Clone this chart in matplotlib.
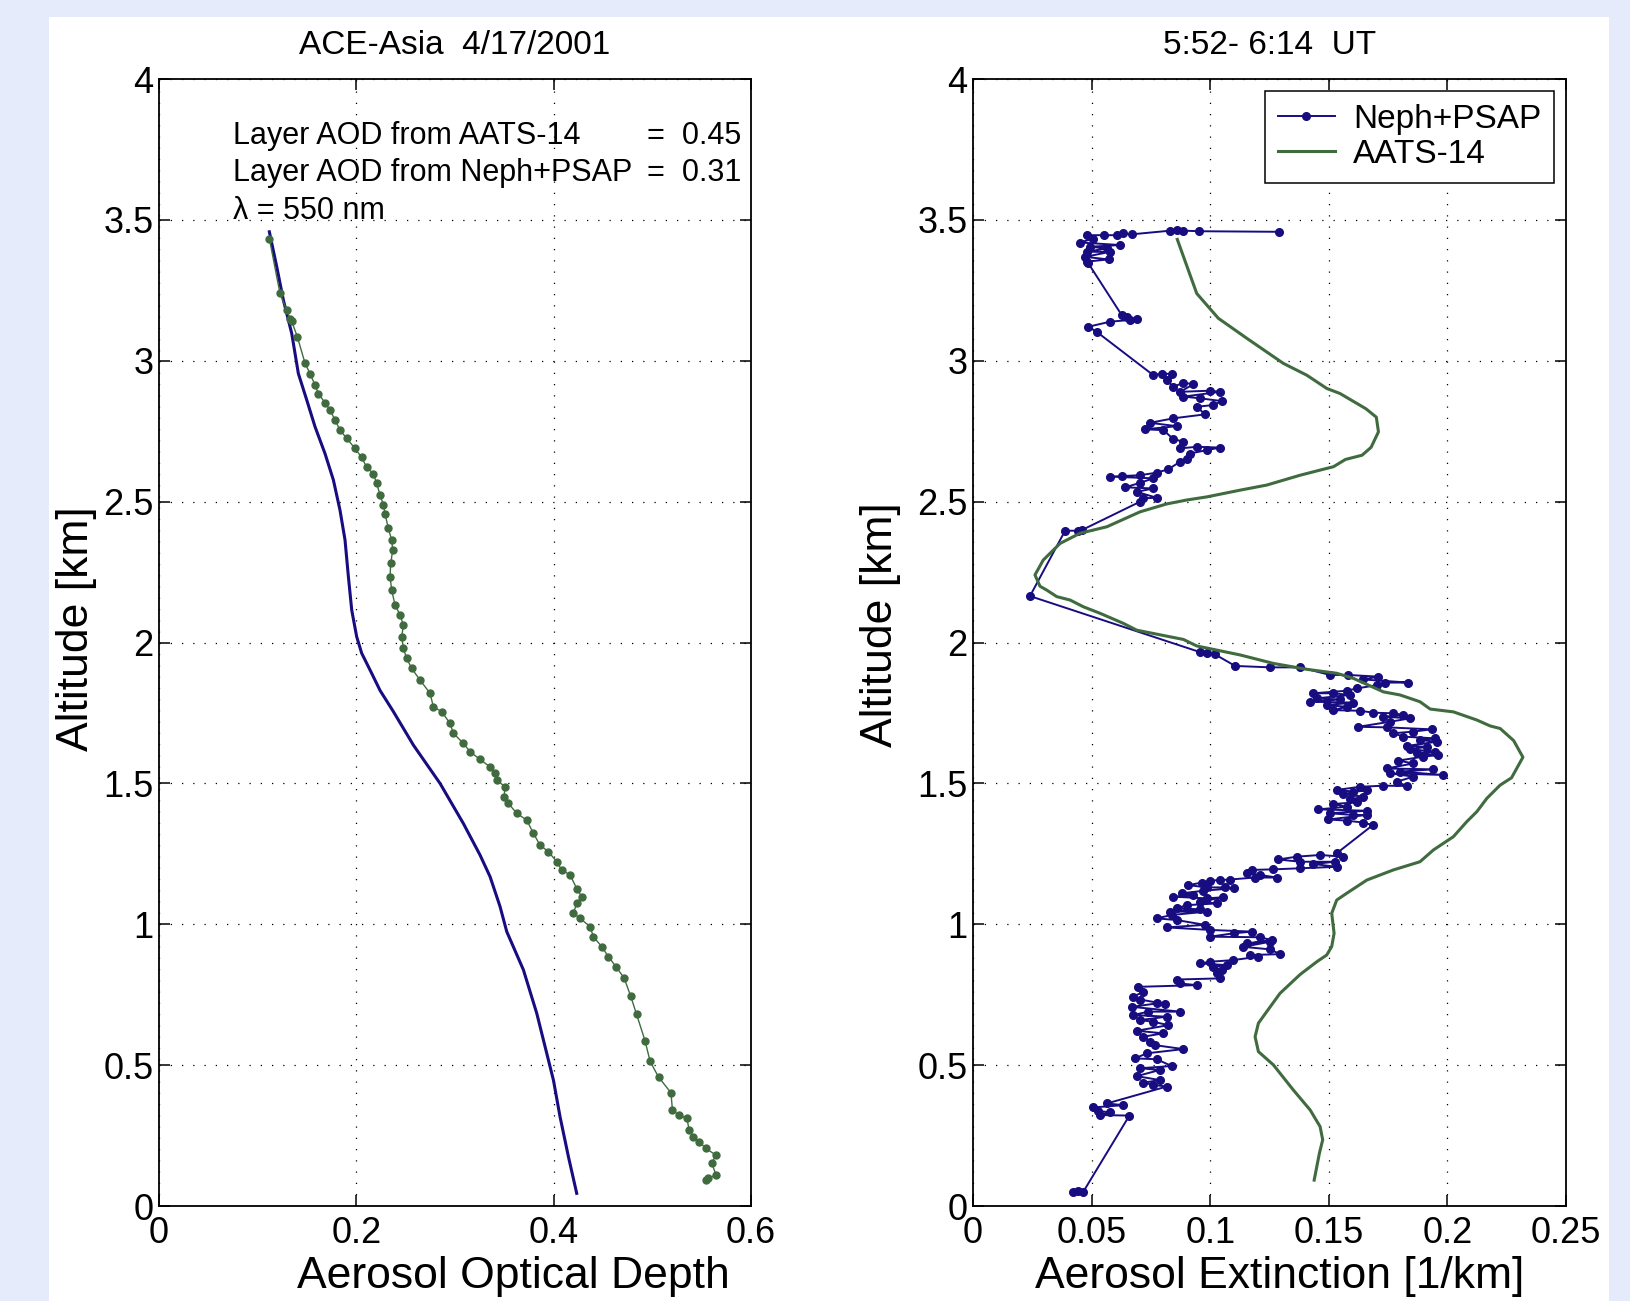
import matplotlib
matplotlib.use("Agg")
import matplotlib.pyplot as plt
import matplotlib.ticker as mticker
from matplotlib.patches import Rectangle
import numpy as np

plt.rcParams['font.family'] = ['Liberation Sans', 'DejaVu Sans']

BLUE = '#170c80'
GREEN = '#3f6b3f'

# ---- left panel: layer AOD profiles (aod, altitude km)
aod_neph = [(0.1118, 3.458), (0.1193, 3.334), (0.1260, 3.216), (0.1345, 3.097), (0.1412, 2.955),
            (0.1497, 2.861), (0.1581, 2.766), (0.1682, 2.671), (0.1767, 2.577), (0.1834, 2.470),
            (0.1885, 2.364), (0.1919, 2.234), (0.1953, 2.115), (0.2003, 2.021), (0.2054, 1.962),
            (0.2155, 1.891), (0.2240, 1.830), (0.2375, 1.755), (0.2578, 1.636), (0.2848, 1.500),
            (0.3084, 1.358), (0.3253, 1.246), (0.3355, 1.169), (0.3456, 1.063), (0.3524, 0.974),
            (0.3693, 0.838), (0.3828, 0.684), (0.3997, 0.447), (0.4064, 0.317), (0.4149, 0.175),
            (0.4233, 0.045)]

aod_aats = [(0.1118, 3.434), (0.1226, 3.239), (0.1294, 3.180), (0.1328, 3.150), (0.1345, 3.140),
            (0.1402, 3.085), (0.1480, 2.991), (0.1530, 2.955), (0.1581, 2.914), (0.1615, 2.884),
            (0.1682, 2.851), (0.1733, 2.825), (0.1784, 2.790), (0.1834, 2.754), (0.1902, 2.725),
            (0.1986, 2.689), (0.2054, 2.657), (0.2105, 2.622), (0.2172, 2.600), (0.2206, 2.565),
            (0.2240, 2.524), (0.2274, 2.488), (0.2290, 2.458), (0.2324, 2.405), (0.2358, 2.364),
            (0.2368, 2.328), (0.2348, 2.281), (0.2341, 2.234), (0.2358, 2.186), (0.2392, 2.133),
            (0.2443, 2.098), (0.2476, 2.062), (0.2460, 2.021), (0.2476, 1.979), (0.2510, 1.944),
            (0.2561, 1.908), (0.2645, 1.867), (0.2747, 1.820), (0.2780, 1.772), (0.2865, 1.755),
            (0.2949, 1.713), (0.2983, 1.678), (0.3085, 1.642), (0.3152, 1.613), (0.3253, 1.585),
            (0.3355, 1.559), (0.3405, 1.536), (0.3422, 1.512), (0.3507, 1.488), (0.3497, 1.453),
            (0.3541, 1.429), (0.3625, 1.394), (0.3726, 1.370), (0.3794, 1.323), (0.3861, 1.281),
            (0.3946, 1.258), (0.4030, 1.222), (0.4081, 1.193), (0.4166, 1.175), (0.4233, 1.127),
            (0.4284, 1.098), (0.4233, 1.074), (0.4199, 1.039), (0.4267, 1.021), (0.4368, 0.992),
            (0.4402, 0.956), (0.4486, 0.921), (0.4554, 0.885), (0.4630, 0.850), (0.4714, 0.809),
            (0.4780, 0.745), (0.4840, 0.680), (0.4925, 0.587), (0.4977, 0.513), (0.5062, 0.458),
            (0.5188, 0.402), (0.5203, 0.341), (0.5266, 0.323), (0.5350, 0.311), (0.5372, 0.270),
            (0.5413, 0.246), (0.5476, 0.228), (0.5540, 0.205), (0.5643, 0.181), (0.5602, 0.152),
            (0.5645, 0.110), (0.5560, 0.098), (0.5540, 0.092)]

# ---- right panel: extinction profiles (1/km, altitude km)
ext_neph = [(0.1291, 3.458), (0.0954, 3.460), (0.0887, 3.462), (0.0859, 3.464), (0.0831, 3.462),
            (0.0669, 3.449), (0.0634, 3.452), (0.0606, 3.446), (0.0550, 3.446), (0.0479, 3.446),
            (0.0507, 3.434), (0.0451, 3.420), (0.0620, 3.411), (0.0493, 3.405), (0.0563, 3.399),
            (0.0479, 3.387), (0.0578, 3.387), (0.0472, 3.369), (0.0571, 3.360), (0.0479, 3.352),
            (0.0486, 3.346),
            (0.0627, 3.162), (0.0648, 3.156), (0.0690, 3.147), (0.0662, 3.145), (0.0578, 3.139),
            (0.0486, 3.121), (0.0521, 3.103),
            (0.0760, 2.949), (0.0796, 2.955), (0.0838, 2.953), (0.0816, 2.932), (0.0844, 2.908),
            (0.0887, 2.922), (0.0929, 2.917), (0.0873, 2.890), (0.0999, 2.894), (0.1041, 2.890),
            (0.0887, 2.873), (0.0957, 2.867), (0.1049, 2.857), (0.1013, 2.843), (0.0943, 2.837),
            (0.0978, 2.810),
            (0.0845, 2.796), (0.0746, 2.780), (0.0859, 2.768), (0.0725, 2.757), (0.0802, 2.754),
            (0.0845, 2.722), (0.0887, 2.713), (0.0873, 2.689), (0.0943, 2.695), (0.1041, 2.692),
            (0.0985, 2.683), (0.0915, 2.671),
            (0.0901, 2.650), (0.0873, 2.642), (0.0823, 2.615), (0.0774, 2.603), (0.0704, 2.594),
            (0.0627, 2.591), (0.0578, 2.589), (0.0760, 2.583), (0.0704, 2.567), (0.0641, 2.551),
            (0.0760, 2.547), (0.0690, 2.535), (0.0774, 2.514), (0.0718, 2.512), (0.0704, 2.500),
            (0.0458, 2.399), (0.0444, 2.397), (0.0388, 2.397),
            (0.0240, 2.165),
            (0.0957, 1.966), (0.0985, 1.964), (0.1020, 1.958), (0.1105, 1.917), (0.1252, 1.912),
            (0.1379, 1.912), (0.1505, 1.885), (0.1582, 1.885), (0.1709, 1.879), (0.1645, 1.869),
            (0.1835, 1.858), (0.1737, 1.858), (0.1702, 1.849), (0.1617, 1.837), (0.1575, 1.829),
            (0.1435, 1.820), (0.1519, 1.820), (0.1589, 1.814), (0.1449, 1.802), (0.1547, 1.798),
            (0.1421, 1.790), (0.1603, 1.787), (0.1491, 1.778), (0.1575, 1.772), (0.1519, 1.760),
            (0.1631, 1.758), (0.1688, 1.751), (0.1772, 1.749), (0.1814, 1.743), (0.1730, 1.737),
            (0.1842, 1.731), (0.1758, 1.719), (0.1624, 1.701), (0.1744, 1.699), (0.1934, 1.692),
            (0.1856, 1.684), (0.1772, 1.678), (0.1814, 1.666), (0.1948, 1.660), (0.1884, 1.654),
            (0.1955, 1.648), (0.1828, 1.633), (0.1912, 1.630), (0.1842, 1.621), (0.1948, 1.613),
            (0.1870, 1.607), (0.1962, 1.601), (0.1898, 1.595), (0.1793, 1.581), (0.1856, 1.571),
            (0.1744, 1.553), (0.1941, 1.550), (0.1800, 1.542), (0.1983, 1.530), (0.1758, 1.536),
            (0.1856, 1.524), (0.1786, 1.506), (0.1828, 1.491), (0.1730, 1.492), (0.1631, 1.488),
            (0.1533, 1.477), (0.1603, 1.471), (0.1659, 1.477), (0.1561, 1.462), (0.1645, 1.453),
            (0.1589, 1.443), (0.1617, 1.433), (0.1519, 1.427), (0.1575, 1.417), (0.1456, 1.408),
            (0.1659, 1.403), (0.1505, 1.394), (0.1603, 1.388), (0.1659, 1.388), (0.1498, 1.372),
            (0.1575, 1.368), (0.1645, 1.361), (0.1685, 1.352),
            (0.1533, 1.252), (0.1561, 1.240), (0.1463, 1.246), (0.1364, 1.240), (0.1287, 1.230),
            (0.1379, 1.222), (0.1526, 1.222), (0.1435, 1.214), (0.1533, 1.204), (0.1379, 1.199),
            (0.1266, 1.195), (0.1175, 1.193), (0.1154, 1.181), (0.1210, 1.175), (0.1280, 1.166),
            (0.1189, 1.166), (0.1083, 1.159), (0.1041, 1.157), (0.0999, 1.155), (0.0964, 1.148),
            (0.0908, 1.139), (0.0985, 1.131), (0.1062, 1.131), (0.1098, 1.128), (0.0971, 1.119),
            (0.0880, 1.110), (0.0929, 1.104), (0.0845, 1.098), (0.0985, 1.092), (0.1055, 1.096),
            (0.0957, 1.080), (0.1027, 1.074), (0.0901, 1.068), (0.0859, 1.057), (0.0957, 1.053),
            (0.0830, 1.045), (0.0985, 1.045), (0.0837, 1.033), (0.0774, 1.021), (0.0859, 1.015),
            (0.0978, 0.998), (0.0816, 0.989), (0.0999, 0.980), (0.1175, 0.974), (0.1098, 0.968),
            (0.0999, 0.956), (0.1210, 0.954), (0.1259, 0.944),
            (0.1153, 0.932), (0.1252, 0.938), (0.1139, 0.920), (0.1252, 0.911), (0.1294, 0.894),
            (0.1168, 0.891), (0.1203, 0.885), (0.1097, 0.873), (0.0999, 0.867), (0.0957, 0.861),
            (0.1069, 0.855), (0.1013, 0.849), (0.1048, 0.838), (0.1027, 0.826), (0.1041, 0.808),
            (0.0859, 0.804), (0.0873, 0.790), (0.0943, 0.784), (0.0697, 0.778), (0.0718, 0.761),
            (0.0676, 0.743), (0.0704, 0.733), (0.0809, 0.717), (0.0774, 0.719), (0.0669, 0.707),
            (0.0873, 0.690), (0.0739, 0.690), (0.0676, 0.678), (0.0816, 0.672), (0.0704, 0.660),
            (0.0760, 0.654), (0.0823, 0.642), (0.0690, 0.622), (0.0802, 0.613), (0.0718, 0.601),
            (0.0746, 0.583), (0.0767, 0.571), (0.0887, 0.557), (0.0732, 0.542), (0.0683, 0.524),
            (0.0774, 0.521), (0.0837, 0.497), (0.0704, 0.489), (0.0788, 0.483), (0.0690, 0.461),
            (0.0788, 0.447), (0.0718, 0.438), (0.0760, 0.430), (0.0816, 0.424),
            (0.0564, 0.364), (0.0634, 0.358), (0.0507, 0.350), (0.0528, 0.338), (0.0578, 0.332),
            (0.0535, 0.323), (0.0659, 0.321),
            (0.0465, 0.051), (0.0444, 0.054), (0.0423, 0.049)]

ext_aats = [(0.0861, 3.431), (0.0943, 3.239), (0.1034, 3.151), (0.1154, 3.080), (0.1308, 2.991),
            (0.1407, 2.949), (0.1491, 2.902), (0.1547, 2.884), (0.1656, 2.830), (0.1700, 2.800),
            (0.1709, 2.748), (0.1678, 2.693), (0.1640, 2.665), (0.1570, 2.650), (0.1519, 2.624),
            (0.1490, 2.618), (0.1379, 2.594), (0.1238, 2.559), (0.1126, 2.541), (0.0985, 2.517),
            (0.0901, 2.506), (0.0816, 2.492), (0.0704, 2.464), (0.0564, 2.411), (0.0451, 2.388),
            (0.0367, 2.352), (0.0296, 2.293), (0.0261, 2.240), (0.0282, 2.200), (0.0311, 2.186),
            (0.0353, 2.163), (0.0409, 2.151), (0.0465, 2.127), (0.0535, 2.104), (0.0634, 2.068),
            (0.0690, 2.044), (0.0887, 2.011), (0.0943, 1.988), (0.1126, 1.956), (0.1266, 1.926),
            (0.1407, 1.905), (0.1533, 1.891), (0.1603, 1.873), (0.1730, 1.825), (0.1800, 1.814),
            (0.1884, 1.790), (0.1927, 1.764), (0.2025, 1.754), (0.2124, 1.725), (0.2180, 1.704),
            (0.2222, 1.695), (0.2279, 1.652), (0.2318, 1.593), (0.2270, 1.520), (0.2222, 1.494),
            (0.2166, 1.447), (0.2124, 1.400), (0.2081, 1.364), (0.2025, 1.311), (0.1941, 1.264),
            (0.1884, 1.222), (0.1772, 1.193), (0.1660, 1.157), (0.1575, 1.110), (0.1533, 1.086),
            (0.1512, 1.039), (0.1522, 0.968), (0.1512, 0.921), (0.1491, 0.891), (0.1449, 0.867),
            (0.1379, 0.822), (0.1294, 0.755), (0.1238, 0.690), (0.1203, 0.649), (0.1189, 0.601),
            (0.1203, 0.548), (0.1266, 0.501), (0.1350, 0.412), (0.1421, 0.341), (0.1463, 0.282),
            (0.1474, 0.235), (0.1460, 0.187), (0.1438, 0.092)]

alt_ticks = [0, 0.5, 1, 1.5, 2, 2.5, 3, 3.5, 4]
aod_ticks = [0, 0.2, 0.4, 0.6]
ext_ticks = [0, 0.05, 0.1, 0.15, 0.2, 0.25]

fig = plt.figure(figsize=(16.31, 13.01), dpi=100)
fig.patch.set_facecolor('#e5ebfa')
fig.patches.append(Rectangle((49 / 1631, 0), 1560 / 1631, 1284 / 1301,
                             transform=fig.transFigure, facecolor='white',
                             edgecolor='none', zorder=-10))

ax1 = fig.add_axes([0.0975, 0.0730, 0.3630, 0.8662])
ax2 = fig.add_axes([0.5966, 0.0730, 0.3636, 0.8662])


def style(ax, xticks, xlim):
    ax.set_xlim(*xlim)
    ax.set_ylim(0, 4)
    ax.set_xticks(xticks)
    ax.set_yticks(alt_ticks)
    fmt = mticker.FormatStrFormatter('%g')
    ax.xaxis.set_major_formatter(fmt)
    ax.yaxis.set_major_formatter(fmt)
    ax.tick_params(direction='in', top=True, right=True, length=8, width=1.1,
                   labelsize=26)
    ax.tick_params(axis='y', pad=4)
    ax.tick_params(axis='x', pad=7)
    ax.grid(True, color='black', linestyle=(0, (1, 8)), linewidth=0.9)
    ax.set_axisbelow(True)
    for s in ax.spines.values():
        s.set_linewidth(1.3)
    ax.set_ylabel('Altitude [km]', fontsize=32)


# left panel
a = np.array(aod_neph)
ax1.plot(a[:, 0], a[:, 1], color=BLUE, lw=2.2)
a = np.array(aod_aats)
ax1.plot(a[:, 0], a[:, 1], color=GREEN, lw=1.0, marker='o', ms=5)
style(ax1, aod_ticks, (0, 0.6))
ax1.set_xlabel('Aerosol Optical Depth', fontsize=32)
ax1.xaxis.set_label_coords(0.598, -0.044)
ax1.yaxis.set_label_coords(-0.105, 0.512)
ax1.set_title('ACE-Asia  4/17/2001', fontsize=24, pad=18)
ax1.text(0.075, 3.797, 'Layer AOD from AATS-14', fontsize=22, va='center')
ax1.text(0.5905, 3.797, '=  0.45', fontsize=22, va='center', ha='right')
ax1.text(0.075, 3.666, 'Layer AOD from Neph+PSAP', fontsize=22, va='center')
ax1.text(0.5905, 3.666, '=  0.31', fontsize=22, va='center', ha='right')
ax1.text(0.075, 3.531, 'λ = 550 nm', fontsize=22, va='center')

# right panel
e = np.array(ext_neph)
ax2.plot(e[:, 0], e[:, 1], color=BLUE, lw=1.4, marker='o', ms=5.5, label='Neph+PSAP')
e = np.array(ext_aats)
ax2.plot(e[:, 0], e[:, 1], color=GREEN, lw=2.2, label='AATS-14')
style(ax2, ext_ticks, (0, 0.25))
ax2.set_xlabel('Aerosol Extinction [1/km]', fontsize=32)
ax2.xaxis.set_label_coords(0.517, -0.044)
ax2.yaxis.set_label_coords(-0.121, 0.516)
ax2.set_title('5:52- 6:14  UT', fontsize=24, pad=18)
leg = ax2.legend(loc='upper right', fontsize=24, fancybox=False, framealpha=1,
                 edgecolor='black', handlelength=1.7, handletextpad=0.55,
                 borderaxespad=0.35, labelspacing=0.12, borderpad=0.4)
leg.get_frame().set_linewidth(1.1)

fig.savefig('out.png', dpi=100, facecolor=fig.get_facecolor())
